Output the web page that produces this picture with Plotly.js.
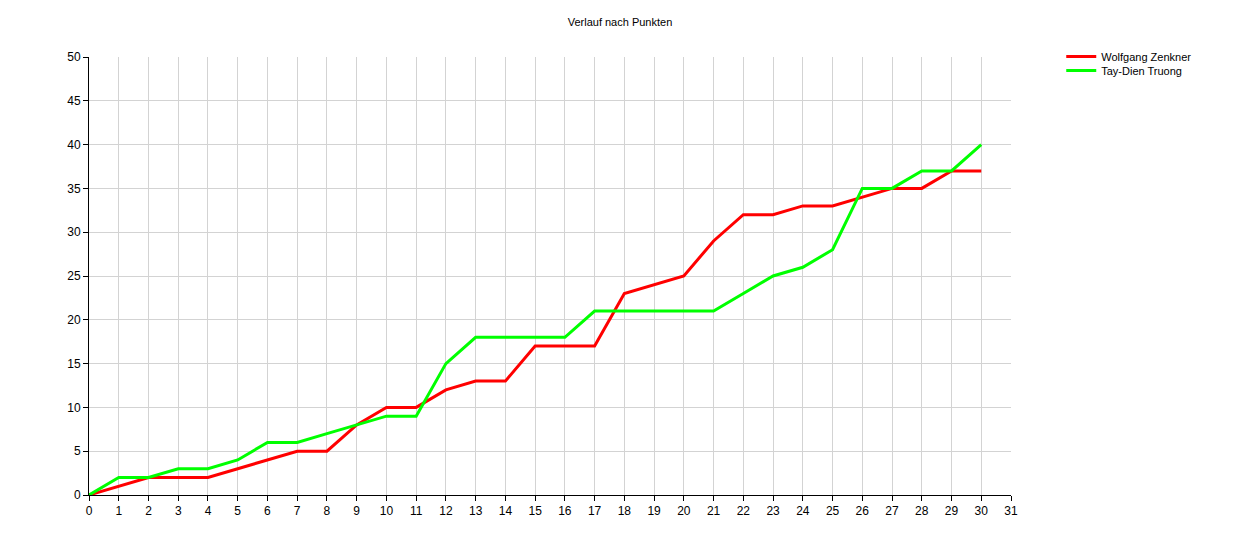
<!DOCTYPE html>
<html>
<head>
<meta charset="utf-8">
<script src="https://cdn.plot.ly/plotly-3.0.1.min.js"></script>
<style>html,body{margin:0;padding:0;background:#fff;}#chart{width:1240px;height:544px;}</style>
</head>
<body>
<div id="chart"></div>
<script>
const rounds = [0,1,2,3,4,5,6,7,8,9,10,11,12,13,14,15,16,17,18,19,20,21,22,23,24,25,26,27,28,29,30];
const wolfgang = [0,1,2,2,2,3,4,5,5,8,10,10,12,13,13,17,17,17,23,24,25,29,32,32,33,33,34,35,35,37,37];
const tay = [0,2,2,3,3,4,6,6,7,8,9,9,15,18,18,18,18,21,21,21,21,21,23,25,26,28,35,35,37,37,40];
const seriesNames = ["Wolfgang Zenkner", "Tay-Dien Truong"];
const xTicks = [0,1,2,3,4,5,6,7,8,9,10,11,12,13,14,15,16,17,18,19,20,21,22,23,24,25,26,27,28,29,30,31];
const yTicks = [0,5,10,15,20,25,30,35,40,45,50];

const font = "Liberation Sans, Arial, sans-serif";
const traces = [
  {x: rounds, y: wolfgang, name: seriesNames[0], mode: "lines", line: {color: "#ff0000", width: 3}, legend: "legend"},
  {x: rounds, y: tay, name: seriesNames[1], mode: "lines", line: {color: "#00ff00", width: 3}, legend: "legend2"}
];
const legendBase = {xanchor: "left", yanchor: "top", font: {family: font, size: 11, color: "#000"},
                    bgcolor: "rgba(0,0,0,0)", itemwidth: 30};
const layout = {
  width: 1240, height: 544,
  margin: {l: 89, r: 229, t: 57, b: 49},
  paper_bgcolor: "#fff", plot_bgcolor: "#fff",
  font: {family: font, size: 12, color: "#000"},
  title: {text: "Verlauf nach Punkten", font: {family: font, size: 11, color: "#000"}, x: 0.5, xanchor: "center", xref: "container", y: 0.96, yanchor: "middle"},
  xaxis: {range: [0, 31], tickvals: xTicks, ticktext: xTicks.map(String), showgrid: true, gridcolor: "#d3d3d3", gridwidth: 1,
          zeroline: false, showline: true, linecolor: "#000", linewidth: 1, ticks: "outside", ticklen: 5, tickcolor: "#000",
          tickfont: {family: font, size: 12, color: "#000"}, fixedrange: true},
  yaxis: {range: [0, 50], tickvals: yTicks, ticktext: yTicks.map(String), showgrid: true, gridcolor: "#d3d3d3", gridwidth: 1,
          zeroline: false, showline: true, linecolor: "#000", linewidth: 1, ticks: "outside", ticklen: 5, tickcolor: "#000",
          tickfont: {family: font, size: 12, color: "#000"}, fixedrange: true},
  showlegend: true,
  legend: Object.assign({}, legendBase, {x: 1.0545, y: 1.034}),
  legend2: Object.assign({}, legendBase, {x: 1.0545, y: 1.002})
};
Plotly.newPlot("chart", traces, layout, {displayModeBar: false, staticPlot: true});
</script>
</body>
</html>
